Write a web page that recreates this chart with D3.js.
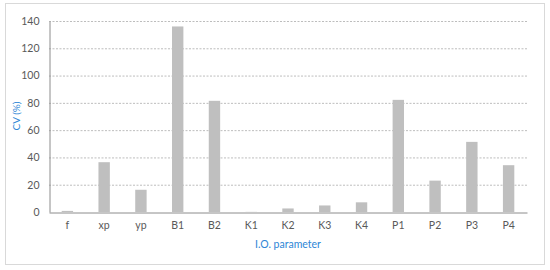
<!DOCTYPE html>
<html>
<head>
<meta charset="utf-8">
<script src="https://cdn.jsdelivr.net/npm/d3@7"></script>
<style>
  body { margin: 0; background: #fff; }
  text { font-family: Lato, "Open Sans", sans-serif; }
</style>
</head>
<body>
<svg class="bar-chart"></svg>
<script>
var categories = ["f", "xp", "yp", "B1", "B2", "K1", "K2", "K3", "K4", "P1", "P2", "P3", "P4"];
var cvValues = [0.8, 36.5, 16.3, 136, 81.5, 0.1, 2.6, 4.8, 7.1, 82.2, 23, 51.4, 34.3];
var yTicks = [0, 20, 40, 60, 80, 100, 120, 140];

var svgWidth = 550,
    svgHeight = 270;
var margin = {left: 49, right: 23, top: 21, bottom: 58};

var svg = d3.select(".bar-chart")
      .attr("width", svgWidth)
      .attr("height", svgHeight);

// chart frame
svg.append("rect")
      .attr("x", 5.5).attr("y", 3.5)
      .attr("width", 539).attr("height", 261)
      .attr("fill", "#fff")
      .attr("stroke", "#d9d9d9");

var x = d3.scaleBand()
      .domain(categories)
      .range([margin.left, svgWidth - margin.right])
      .paddingInner(0.69)
      .paddingOuter(0.345);

var y = d3.scaleLinear()
      .domain([0, 140])
      .range([svgHeight - margin.bottom, margin.top]);

// gridlines, drawn as a tick-less axis
var grid = svg.append("g")
      .attr("class", "grid")
      .attr("transform", "translate(" + margin.left + ",0)")
      .call(d3.axisLeft(y).tickValues(yTicks.slice(1))
            .tickSize(-(svgWidth - margin.left - margin.right)).tickFormat(""));
grid.select(".domain").remove();
grid.selectAll("line")
      .attr("stroke", "#bdbdbd")
      .attr("stroke-dasharray", "2,1.5");

svg.append("g")
      .selectAll("rect")
      .data(cvValues)
      .enter()
      .append("rect")
      .attr("x", function(d, i) { return x(categories[i]); })
      .attr("width", x.bandwidth())
      .attr("y", function(d) { return y(d); })
      .attr("height", function(d) { return y(0) - y(d); })
      .attr("fill", "#bfbfbf");

var yAxis = svg.append("g")
      .attr("transform", "translate(" + (margin.left + 0.5) + ",0)")
      .call(d3.axisLeft(y).tickValues(yTicks).tickSize(0).tickPadding(10));
yAxis.select(".domain").attr("stroke", "#8c8c8c");
yAxis.selectAll("text").attr("font-size", "10.5px").attr("fill", "#595959");

var xAxis = svg.append("g")
      .attr("transform", "translate(0," + (Math.round(y(0)) + 0.5) + ")")
      .call(d3.axisBottom(x).tickSize(0).tickPadding(9));
xAxis.select(".domain").attr("stroke", "#8c8c8c");
xAxis.selectAll("text").attr("font-size", "10.5px").attr("fill", "#595959");

svg.append("text")
      .attr("transform", "translate(19.5,116) rotate(-90)")
      .attr("text-anchor", "middle")
      .attr("font-size", "10px")
      .attr("fill", "#2e86d6")
      .text("CV (%)");

svg.append("text")
      .attr("x", (margin.left + svgWidth - margin.right) / 2)
      .attr("y", 248)
      .attr("text-anchor", "middle")
      .attr("font-size", "10.5px")
      .attr("fill", "#2e86d6")
      .text("I.O. parameter");
</script>
</body>
</html>
